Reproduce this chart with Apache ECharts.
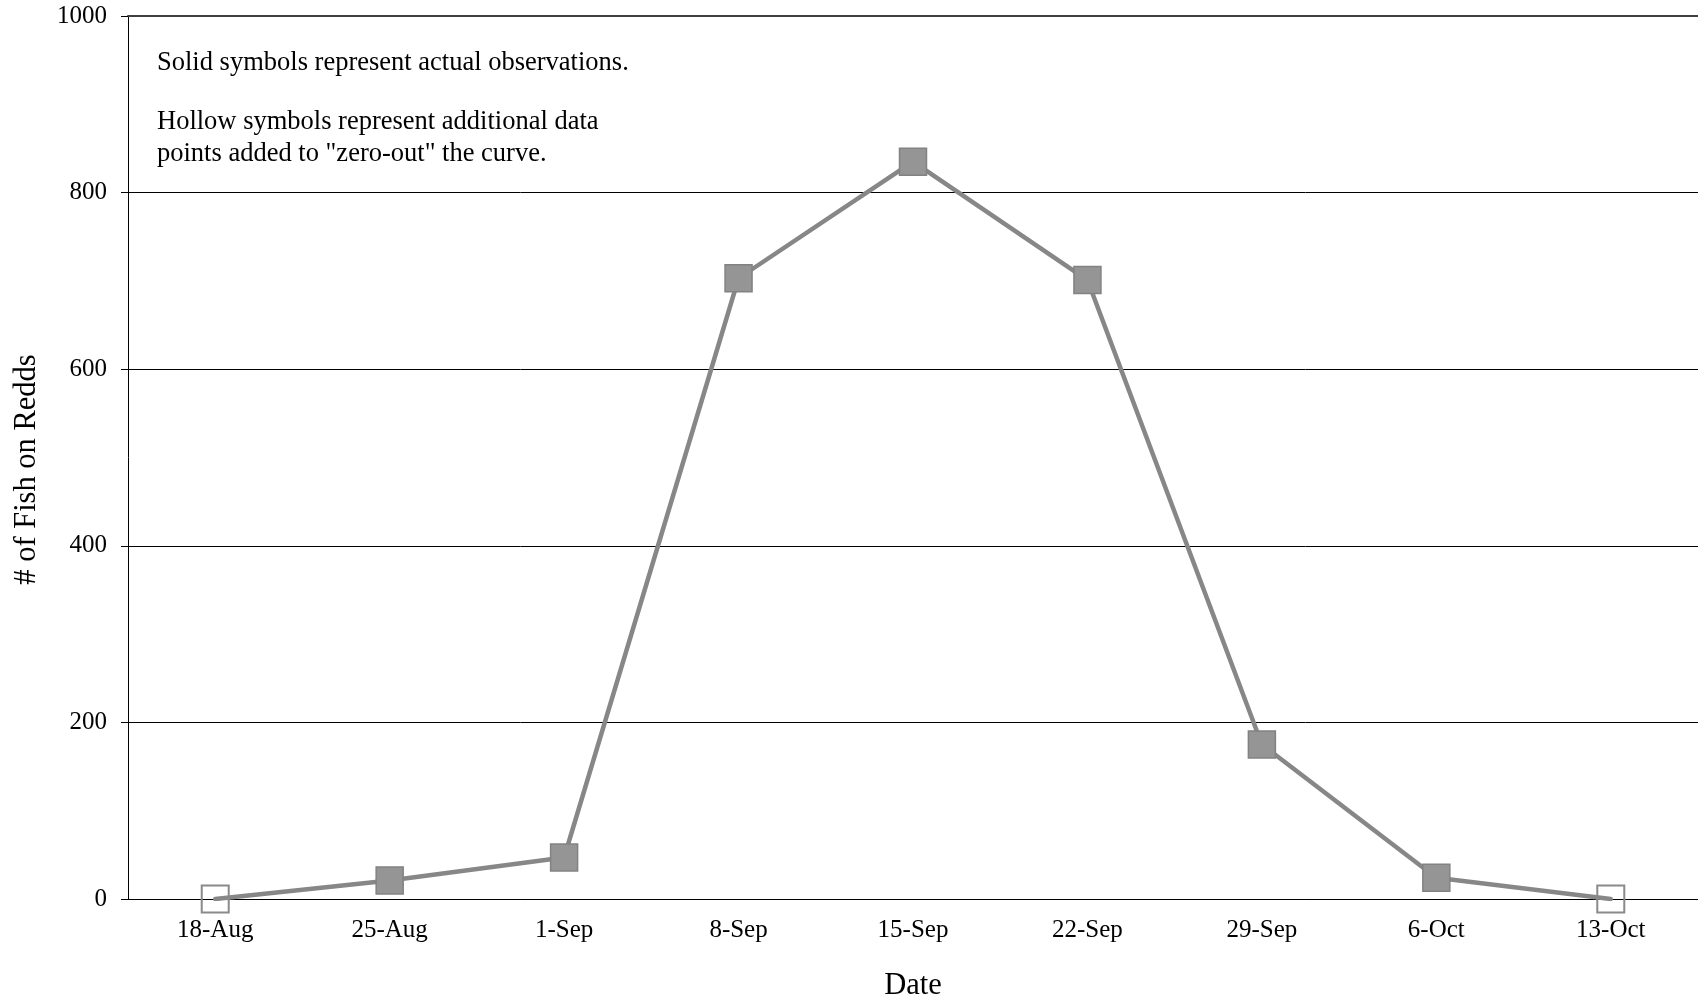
<!DOCTYPE html>
<html>
<head>
<meta charset="utf-8">
<script src="https://cdn.jsdelivr.net/npm/echarts@6/dist/echarts.min.js"></script>
<style>
html,body{margin:0;padding:0;background:#fff;overflow:hidden;}
#chart{width:1698px;height:1006px;}
</style>
</head>
<body>
<div id="chart"></div>
<script>
// ---- data ----
const categories = ['18-Aug','25-Aug','1-Sep','8-Sep','15-Sep','22-Sep','29-Sep','6-Oct','13-Oct'];
const fishOnRedds = [0, 21, 47, 703, 835, 701, 175, 24, 0];
const observed = [false, true, true, true, true, true, true, true, false];
const yTicks = [0, 200, 400, 600, 800, 1000];
const noteLines = ['Solid symbols represent actual observations.', 'Hollow symbols represent additional data', 'points added to "zero-out" the curve.'];

const FONT = "'Liberation Serif', 'Times New Roman', serif";

const seriesData = fishOnRedds.map((v, i) => observed[i]
  ? { value: v, itemStyle: { color: '#959595', borderColor: '#828282', borderWidth: 1.5 } }
  : { value: v, itemStyle: { color: 'rgba(0,0,0,0)', borderColor: '#8a8a8a', borderWidth: 2 } });

const chart = echarts.init(document.getElementById('chart'), null, { renderer: 'canvas', width: 1698, height: 1006 });
chart.setOption({
  animation: false,
  backgroundColor: '#fff',
  grid: { left: 128, right: 0, top: 16, bottom: 102, containLabel: false },
  xAxis: [{
    type: 'category',
    data: categories,
    boundaryGap: true,
    name: 'Date',
    nameLocation: 'middle',
    nameGap: 71,
    nameTextStyle: { fontFamily: FONT, fontSize: 30.5, color: '#000' },
    axisLine: { show: true, lineStyle: { color: '#000', width: 1 } },
    axisTick: { show: false },
    axisLabel: { interval: 0, margin: 19, fontFamily: FONT, fontSize: 25, color: '#000' },
    splitLine: { show: false }
  }, {
    type: 'category',
    position: 'top',
    data: categories,
    axisLine: { show: true, lineStyle: { color: '#404040', width: 2 } },
    axisTick: { show: false },
    axisLabel: { show: false },
    splitLine: { show: false }
  }],
  yAxis: {
    type: 'value',
    min: yTicks[0],
    max: yTicks[yTicks.length - 1],
    interval: yTicks[1] - yTicks[0],
    name: '# of Fish on Redds',
    nameLocation: 'middle',
    nameGap: 86,
    nameTextStyle: { fontFamily: FONT, fontSize: 30.5, color: '#000', padding: [0, 24, 0, 0] },
    axisLine: { show: true, lineStyle: { color: '#000', width: 1 } },
    axisTick: { show: true, length: 7, lineStyle: { color: '#000', width: 1 } },
    axisLabel: { margin: 21, fontFamily: FONT, fontSize: 25, color: '#000', formatter: v => String(v) },
    splitLine: { show: true, lineStyle: { color: '#000', width: 1 } }
  },
  series: [{
    type: 'line',
    data: seriesData,
    symbol: 'rect',
    symbolSize: 27,
    lineStyle: { color: '#878787', width: 4.5, cap: 'round', join: 'round' },
    z: 3
  }],
  graphic: [
    { type: 'text', style: { x: 157, y: 63.5, text: noteLines[0], font: '26.5px ' + FONT, fill: '#000', verticalAlign: 'middle' } },
    { type: 'text', style: { x: 157, y: 122.5, text: noteLines[1], font: '26.5px ' + FONT, fill: '#000', verticalAlign: 'middle' } },
    { type: 'text', style: { x: 157, y: 154, text: noteLines[2], font: '26.5px ' + FONT, fill: '#000', verticalAlign: 'middle' } }
  ]
});
</script>
</body>
</html>
